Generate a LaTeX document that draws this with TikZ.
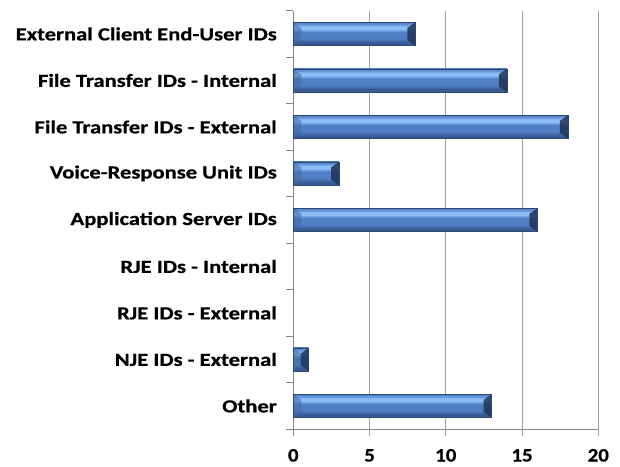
\documentclass[tikz,border=0pt]{standalone}
\usepackage{fontspec}
\setmainfont{Carlito}[BoldFeatures={FakeBold=0.6}]
\definecolor{bedge}{RGB}{86,130,200}
\definecolor{btop}{RGB}{98,146,215}
\definecolor{bhi}{RGB}{142,190,246}
\definecolor{bmid}{RGB}{80,127,197}
\definecolor{bdark}{RGB}{55,90,145}
\definecolor{bevelR}{RGB}{30,52,88}
\definecolor{bevelL}{RGB}{66,104,160}
\definecolor{bline}{RGB}{45,72,115}
\definecolor{axisgray}{RGB}{134,134,134}
\definecolor{gridgray}{RGB}{160,160,160}
\pgfdeclareverticalshading{barshade}{100bp}{color(0bp)=(bdark); color(25bp)=(bdark); color(31bp)=(bdark); color(40bp)=(bmid); color(54bp)=(bmid); color(61bp)=(bhi); color(66bp)=(bhi); color(71bp)=(btop); color(75bp)=(bedge); color(100bp)=(bedge)}
\newcommand{\wide}[1]{\scalebox{1.22}[1]{#1}}
\newcommand{\digitwide}[1]{\scalebox{1.1}[1]{#1}}
\tikzset{
  gridline/.style={draw=gridgray, line width=0.8pt},
  axisline/.style={draw=axisgray, line width=0.8pt},
  catlabel/.style={anchor=east, inner sep=0pt, font=\bfseries\fontsize{18.5}{20}\selectfont},
  ticklabel/.style={anchor=base, inner sep=0pt, font=\bfseries\fontsize{19}{20}\selectfont},
  barbody/.style={shading=barshade},
  barborder/.style={draw=bline, line width=0.6pt},
  leftbevel/.style={fill=bevelL, fill opacity=0.55},
  rightbevel/.style={fill=bevelR, fill opacity=0.85}
}
\begin{document}
\begin{tikzpicture}[x=1pt,y=-1pt]
\useasboundingbox (0,0) rectangle (620,466);
\def\xo{293.3}
\def\ux{15.25}
\def\yt{10.7}
\def\yb{429.2}
\def\dy{46.5}
% gridlines
\foreach \v in {5,10,15,20}
  \draw[gridline] ({\xo+\v*\ux},\yt) -- ({\xo+\v*\ux},436);
% axes
\draw[axisline] (\xo,\yt) -- (\xo,436);
\draw[axisline] (\xo,\yb) -- ({\xo+20*\ux},\yb);
\foreach \k in {0,...,9}
  \draw[axisline] (286,{\yt+\k*\dy}) -- (\xo,{\yt+\k*\dy});
% category labels
\foreach \name [count=\i from 0] in {External Client End-User IDs, File Transfer IDs - Internal, File Transfer IDs - External, Voice-Response Unit IDs, Application Server IDs, RJE IDs - Internal, RJE IDs - External, NJE IDs - External, Other}
  \node[catlabel] (lab\i) at (277,{\yt+\dy*(\i+0.5)}) {\wide{\name}};
% tick labels
\foreach \v in {0,5,10,15,20}
  \node[ticklabel] (tick\v) at ({\xo+\v*\ux},461.5) {\digitwide{\v}};
% bars
\foreach \v [count=\i from 0] in {8,14,18,3,16,0,0,1,13} {
  \ifnum\v>0
    \pgfmathsetmacro\xe{\xo+\v*\ux}
    \pgfmathsetmacro\yc{\yt+\dy*(\i+0.5)}
    \pgfmathsetmacro\bw{min(8,\v*\ux/2)}
    \shade[barbody] (\xo,{\yc-11.5}) rectangle (\xe,{\yc+11.5});
    \fill[leftbevel] (\xo,{\yc-11.5}) -- ({\xo+\bw},{\yc-6}) -- ({\xo+\bw},{\yc+6}) -- (\xo,{\yc+11.5}) -- cycle;
    \fill[rightbevel] (\xe,{\yc-11.5}) -- ({\xe-\bw},{\yc-6}) -- ({\xe-\bw},{\yc+6}) -- (\xe,{\yc+11.5}) -- cycle;
    \draw[barborder] (\xo,{\yc-11.5}) rectangle (\xe,{\yc+11.5});
  \fi
}
\end{tikzpicture}
\end{document}
